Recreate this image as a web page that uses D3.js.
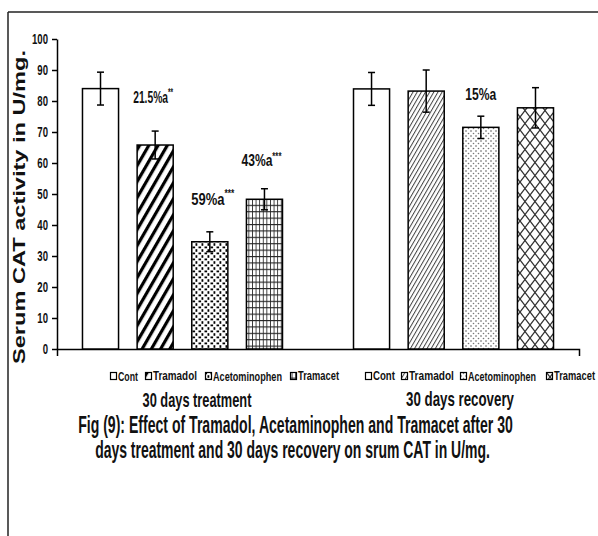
<!DOCTYPE html>
<html>
<head>
<meta charset="utf-8">
<title>Serum CAT activity</title>
<script src="https://d3js.org/d3.v7.min.js"></script>
<style>
  body { margin: 0; background: #fff; }
  svg text { font-family: 'Liberation Sans', Arial, sans-serif; font-weight: bold; fill: #111; }
</style>
</head>
<body>
<script>
// data
const groups = ['30 days treatment', '30 days recovery'];
const series = ['Cont', 'Tramadol', 'Acetominophen', 'Tramacet'];
const treatMeans = [84.0, 65.8, 34.6, 48.3];
const treatErr = [5.3, 4.5, 3.2, 3.4];
const recovMeans = [83.9, 83.2, 71.5, 77.8];
const recovErr = [5.3, 6.8, 3.6, 6.5];
const yTicks = [0, 10, 20, 30, 40, 50, 60, 70, 80, 90, 100];
const noteTexts = ['21.5%a', '59%a', '43%a', '15%a'];
const noteSups = ['**', '***', '***', ''];
const noteGroup = [0, 0, 0, 1];
const noteSeries = [1, 2, 3, 2];
const yTitle = 'Serum CAT activity in U/mg.';
const caption = ['Fig (9): Effect of Tramadol, Acetaminophen and Tramacet after 30',
                 'days treatment and 30 days  recovery on srum CAT in U/mg.'];

const W = 598, H = 536;
const svg = d3.select('body').append('svg')
    .attr('width', W).attr('height', H);

// fill patterns, one per group/series
const defs = svg.append('defs');
function pattern(id, w, h, draw, transform) {
    const p = defs.append('pattern').attr('id', id)
        .attr('patternUnits', 'userSpaceOnUse')
        .attr('width', w).attr('height', h);
    if (transform) p.attr('patternTransform', transform);
    p.append('rect').attr('width', w).attr('height', h).attr('fill', '#fff');
    draw(p);
}
pattern('p-white', 4, 4, () => {});
pattern('t-diag', 8, 8, p => p.append('rect').attr('x', 0).attr('width', 3.2).attr('height', 8).attr('fill', '#000'), 'rotate(30)');
pattern('t-dots', 6, 6, p => {
    p.append('rect').attr('x', 0.5).attr('y', 0.5).attr('width', 2.6).attr('height', 1.8).attr('fill', '#000');
    p.append('rect').attr('x', 3.5).attr('y', 3.2).attr('width', 1.8).attr('height', 2.6).attr('fill', '#000');
});
pattern('t-grid', 3.6, 6.4, p => {
    p.append('rect').attr('x', 0).attr('width', 0.9).attr('height', 6.4).attr('fill', '#333');
    p.append('rect').attr('y', 0).attr('width', 3.6).attr('height', 1.1).attr('fill', '#222');
});
pattern('r-diag', 3.6, 3.6, p => p.append('rect').attr('width', 1).attr('height', 3.6).attr('fill', '#444'), 'rotate(30)');
pattern('r-dots', 5, 5, p => {
    p.append('circle').attr('cx', 1).attr('cy', 1).attr('r', 0.8).attr('fill', '#555');
    p.append('circle').attr('cx', 3.5).attr('cy', 3.5).attr('r', 0.8).attr('fill', '#777');
});
pattern('r-diam', 10, 13, p => p.append('path')
    .attr('d', 'M0,0L10,13M10,0L0,13')
    .attr('stroke', '#333').attr('stroke-width', 1.3).attr('fill', 'none'));

const fills = [
    ['p-white', 't-diag', 't-dots', 't-grid'],
    ['p-white', 'r-diag', 'r-dots', 'r-diam']
];

// frame
svg.append('line').attr('x1', 8).attr('x2', W).attr('y1', 12).attr('y2', 12)
    .attr('stroke', '#222').attr('stroke-width', 1.5);
svg.append('line').attr('x1', 8).attr('x2', 8).attr('y1', 12).attr('y2', H)
    .attr('stroke', '#222').attr('stroke-width', 1.5);

// scales
const x0 = d3.scaleBand().domain(groups).range([57, 579])
    .paddingInner(0.262).paddingOuter(0.094);
const x1 = d3.scaleBand().domain(series).range([0, x0.bandwidth()])
    .paddingInner(0.34).paddingOuter(0);
const y = d3.scaleLinear().domain([0, 100]).range([349, 39]);

// squeeze text horizontally to a given width
function fitText(parent, str, cx, cy, w, size, anchor) {
    const g = parent.append('g').attr('transform', `translate(${cx},${cy})`);
    const t = g.append('text').attr('font-size', size)
        .attr('text-anchor', anchor || 'middle')
        .attr('dominant-baseline', 'central')
        .text(str);
    const L = t.node().getComputedTextLength();
    if (L > 0) t.attr('transform', `scale(${w / L},1)`);
    return t;
}

// y axis
const yAxis = svg.append('g').attr('transform', 'translate(57,0)')
    .call(d3.axisLeft(y).tickValues(yTicks).tickSize(5).tickSizeOuter(0).tickPadding(4));
yAxis.select('.domain').attr('stroke', '#000').attr('stroke-width', 1.5);
yAxis.selectAll('.tick line').attr('stroke', '#000').attr('stroke-width', 1.5);
yAxis.selectAll('.tick text')
    .attr('font-size', 15).attr('font-family', null)
    .attr('x', -9 / 0.64).attr('transform', 'scale(0.64,1)');

// x axis: plain line with end ticks
const xAxis = svg.append('g').attr('transform', 'translate(0,349)')
    .call(d3.axisBottom(x0).tickSize(0).tickSizeOuter(7).tickFormat(''));
xAxis.select('.domain').attr('stroke', '#000').attr('stroke-width', 1.5);

// y title
svg.append('text')
    .attr('transform', `translate(25,${(364 + 50) / 2}) rotate(-90)`)
    .attr('text-anchor', 'middle')
    .attr('font-size', 17)
    .attr('textLength', 314)
    .attr('lengthAdjust', 'spacingAndGlyphs')
    .text(yTitle);

// bars
const means = [treatMeans, recovMeans];
const errs = [treatErr, recovErr];
const barData = [];
groups.forEach((g, gi) => series.forEach((s, si) => {
    barData.push({ g, gi, s, si, v: means[gi][si], e: errs[gi][si] });
}));

const bars = svg.append('g');
bars.selectAll('rect').data(barData).enter().append('rect')
    .attr('x', d => x0(d.g) + x1(d.s))
    .attr('y', d => y(d.v))
    .attr('width', x1.bandwidth())
    .attr('height', d => y(0) - y(d.v))
    .attr('fill', d => `url(#${fills[d.gi][d.si]})`)
    .attr('stroke', '#000').attr('stroke-width', 1.5);

// error bars
const eb = svg.append('g').attr('stroke', '#000').attr('stroke-width', 1.5);
const cx = d => x0(d.g) + x1(d.s) + x1.bandwidth() / 2;
eb.selectAll('.v').data(barData).enter().append('line')
    .attr('x1', cx).attr('x2', cx)
    .attr('y1', d => y(d.v + d.e)).attr('y2', d => y(d.v - d.e));
eb.selectAll('.top').data(barData).enter().append('line')
    .attr('x1', d => cx(d) - 3.5).attr('x2', d => cx(d) + 3.5)
    .attr('y1', d => y(d.v + d.e)).attr('y2', d => y(d.v + d.e));
eb.selectAll('.bot').data(barData).enter().append('line')
    .attr('x1', d => cx(d) - 3.5).attr('x2', d => cx(d) + 3.5)
    .attr('y1', d => y(d.v - d.e)).attr('y2', d => y(d.v - d.e));

// significance notes above bars
const noteGap = [34, 34, 28, 22];
const noteW = [40, 43, 40, 31];
const noteDx = [-2, 3, -3, 0];
noteTexts.forEach((txt, i) => {
    const gi = noteGroup[i], si = noteSeries[i];
    const d = barData.find(b => b.gi === gi && b.si === si);
    const g = svg.append('g')
        .attr('transform', `translate(${cx(d) + noteDx[i]},${y(d.v + d.e) - noteGap[i]})`);
    const t = g.append('text').attr('font-size', 17).attr('text-anchor', 'middle')
        .attr('dominant-baseline', 'central');
    t.append('tspan').text(txt);
    if (noteSups[i]) t.append('tspan').attr('font-size', 11).attr('dy', -5).text(noteSups[i]);
    const L = t.node().getComputedTextLength();
    t.attr('transform', `scale(${noteW[i] / L},1)`);
});

// legends under each group
const legX = [[110, 145, 205, 290], [365, 401, 460, 546]];
const legW = [[20, 44, 69, 41], [22, 45, 68, 41]];
const legY = 376;
groups.forEach((g, gi) => series.forEach((s, si) => {
    const lx = legX[gi][si];
    svg.append('rect').attr('x', lx + 0.5).attr('y', legY - 3.5)
        .attr('width', 6).attr('height', 7)
        .attr('fill', `url(#${fills[gi][si]})`)
        .attr('stroke', '#000').attr('stroke-width', 1.2);
    fitText(svg, s, lx + 8, legY, legW[gi][si], 12, 'start');
}));

// group labels
fitText(svg, groups[0], 197, 400, 109, 20);
fitText(svg, groups[1], 460, 400, 108, 20);

// caption
fitText(svg, caption[0], 295.5, 424, 435, 24);
fitText(svg, caption[1], 292.5, 449, 395, 24);
</script>
</body>
</html>
